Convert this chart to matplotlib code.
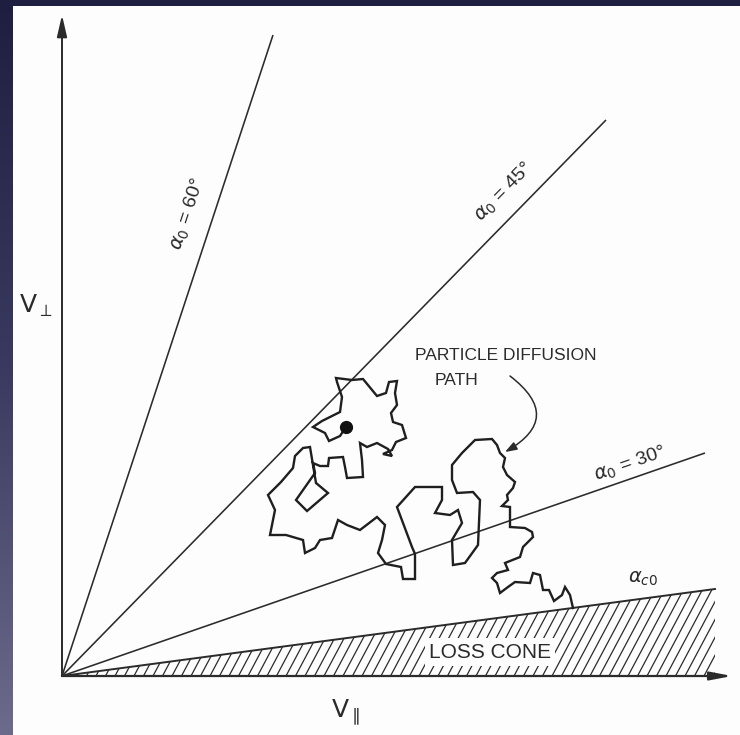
import numpy as np
import matplotlib
matplotlib.use("Agg")
import matplotlib.pyplot as plt
from matplotlib.patches import Polygon, Rectangle
from matplotlib.colors import LinearSegmentedColormap

# ---------------- data (arbitrary velocity units) ----------------
ray_names = ["60°", "45°", "30°"]
ray_end_vpar = [211, 544, 643]
ray_end_vperp = [641, 556, 223]
losscone_end_vpar = 653
losscone_end_vperp = 87
axis_vpar_max = 670
axis_vperp_max = 661
start_vpar, start_vperp = 284, 249

path_vpar = [284, 278, 267, 263, 251, 260, 270, 278, 280, 275, 274, 290, 301, 310, 315,
             324, 327, 335, 333, 335, 329, 331, 340, 344, 334, 330, 321, 330, 326, 315,
             305, 298, 300, 301, 285, 283, 281, 267, 266, 258, 251, 253, 234, 245, 266,
             254, 251, 248, 241, 233, 231, 219, 206, 213, 208, 224, 241, 243, 253, 258,
             270, 276, 285, 298, 315, 323, 320, 316, 324, 339, 341, 353, 353, 350, 341,
             335, 353, 380, 380, 373, 388, 396, 400, 390, 391, 403, 416, 418, 411, 395,
             390, 390, 400, 413, 430, 435, 438, 443, 441, 445, 453, 451, 445, 446, 440,
             448, 448, 448, 463, 470, 471, 461, 458, 443, 446, 435, 430, 435, 438, 446,
             453, 468, 471, 478, 481, 487, 492, 500, 503, 508, 511]
path_vperp = [249, 240, 235, 243, 249, 255, 260, 264, 279, 294, 298, 296, 297, 286, 280,
              283, 294, 295, 283, 271, 263, 254, 251, 238, 234, 226, 222, 220, 227, 233,
              229, 233, 216, 199, 198, 209, 219, 218, 210, 210, 213, 203, 176, 165, 183,
              193, 211, 229, 228, 220, 208, 194, 181, 166, 141, 141, 136, 123, 128, 136,
              138, 156, 151, 146, 159, 151, 136, 123, 112, 109, 97, 97, 122, 129, 153,
              169, 189, 189, 176, 163, 161, 166, 153, 136, 111, 113, 131, 176, 184, 183,
              196, 211, 223, 236, 237, 231, 223, 218, 209, 201, 194, 188, 181, 176, 170,
              169, 161, 149, 148, 144, 139, 129, 119, 113, 106, 103, 98, 93, 83, 89,
              94, 93, 103, 101, 86, 86, 75, 81, 89, 81, 68]

# ---------------- figure ----------------
W, H = 740, 735
fig = plt.figure(figsize=(W / 100, H / 100), dpi=100)

# dark gradient backdrop + white sheet
bg = fig.add_axes([0, 0, 1, 1], zorder=0)
cmap = LinearSegmentedColormap.from_list("bgc", ["#1e1f40", "#3a3a60", "#6c6b8b"])
grad = np.linspace(0, 1, 256).reshape(-1, 1)
bg.imshow(grad, cmap=cmap, aspect="auto", extent=[0, 1, 0, 1], origin="upper")
bg.add_patch(Rectangle((13 / W, 0), 1 - 13 / W, 1 - 6 / H, transform=bg.transAxes,
                       facecolor="#fdfdfd", edgecolor="none", zorder=3))
bg.set_xlim(0, 1)
bg.set_ylim(0, 1)
bg.set_axis_off()

ax = fig.add_axes([0, 0, 1, 1], zorder=1)
ax.patch.set_alpha(0)
ax.set_xlim(-62, W - 62)
ax.set_ylim(-(H - 676), 676)
ax.set_axis_off()

ink = "#2b2b2b"
font = ["Liberation Sans Narrow", "Liberation Sans", "DejaVu Sans"]
plt.rcParams["mathtext.fontset"] = "dejavusans"

# axes with arrows
ax.annotate("", xy=(0, axis_vperp_max), xytext=(0, 0),
            arrowprops=dict(arrowstyle="-|>,head_length=1.3,head_width=0.3",
                            color=ink, lw=1.4, shrinkA=0, shrinkB=0))
ax.annotate("", xy=(axis_vpar_max, 0), xytext=(0, 0),
            arrowprops=dict(arrowstyle="-|>,head_length=1.3,head_width=0.25",
                            color=ink, lw=1.6, shrinkA=0, shrinkB=0))

# pitch-angle rays
for vx, vy in zip(ray_end_vpar, ray_end_vperp):
    ax.plot([0, vx], [0, vy], color=ink, lw=1.15, solid_capstyle="butt")

# loss cone
ax.plot([0, losscone_end_vpar], [0, losscone_end_vperp], color=ink, lw=1.4)
cone = Polygon([(0, 0), (losscone_end_vpar, losscone_end_vperp), (losscone_end_vpar, 0)],
               closed=True, facecolor="none", edgecolor="none")
ax.add_patch(cone)
ang = np.radians(62)
for c in np.arange(-80, losscone_end_vpar + 10, 9.5):
    ln, = ax.plot([c, c + 200 * np.cos(ang)], [0, 200 * np.sin(ang)], color=ink, lw=0.9)
    ln.set_clip_path(cone)

ax.text(428, 24, "LOSS CONE", fontsize=15, family=font, color=ink,
        ha="center", va="center",
        bbox=dict(boxstyle="square,pad=0.2", facecolor="#fdfdfd", edgecolor="none"),
        zorder=5)

# diffusion path
ax.plot(path_vpar, path_vperp, color="#1f1f1f", lw=1.7, solid_joinstyle="miter")
ax.plot([start_vpar], [start_vperp], "o", ms=8.5, color="#111111")

# labels of rays
label_pos = {"60°": (126, 462), "45°": (442, 484), "30°": (568, 212)}
for name, vx, vy in zip(ray_names, ray_end_vpar, ray_end_vperp):
    rot = np.degrees(np.arctan2(vy, vx))
    x, y = label_pos[name]
    ax.text(x, y, r"$\alpha_0$ = " + name, fontsize=14, family=font, color=ink,
            rotation=rot, rotation_mode="anchor", ha="center", va="center")

ax.text(581, 98, r"$\alpha_{c0}$", fontsize=14, color=ink, ha="center", va="center")

ax.text(353, 321, "PARTICLE DIFFUSION", fontsize=12.5, family=font, color=ink,
        ha="left", va="center")
ax.text(373, 296, "PATH", fontsize=12.5, family=font, color=ink, ha="left", va="center")
ax.annotate("", xy=(443, 224), xytext=(448, 300),
            arrowprops=dict(arrowstyle="-|>,head_length=0.7,head_width=0.25",
                            connectionstyle="arc3,rad=-0.75", color=ink, lw=1.1,
                            shrinkA=0, shrinkB=0))

ax.text(-26, 370, r"$\mathrm{V}_{\perp}$", fontsize=18, color=ink, ha="center", va="center")
ax.text(284, -36, r"$\mathrm{V}_{\parallel}$", fontsize=18, color=ink, ha="center", va="center")

fig.savefig("out.png", dpi=100)
